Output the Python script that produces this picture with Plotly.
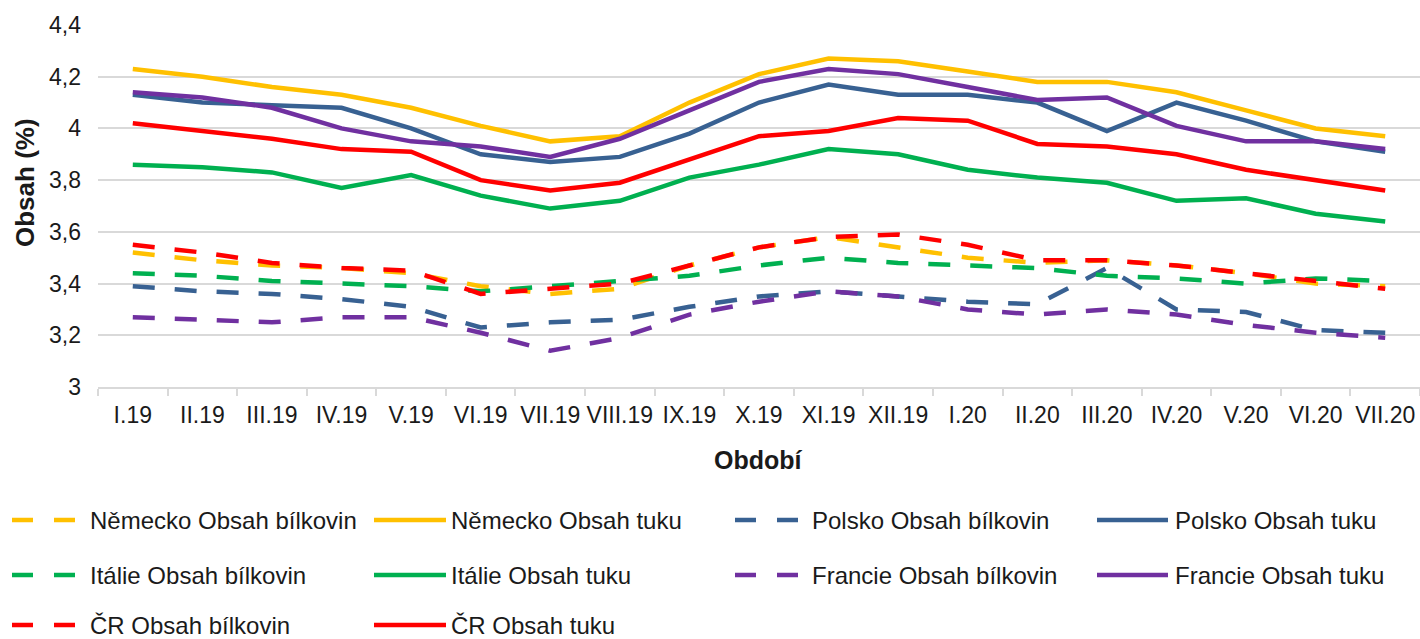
import plotly.graph_objects as go

categories = ["I.19", "II.19", "III.19", "IV.19", "V.19", "VI.19", "VII.19", "VIII.19",
              "IX.19", "X.19", "XI.19", "XII.19", "I.20", "II.20", "III.20", "IV.20",
              "V.20", "VI.20", "VII.20"]

nemecko_bilkovin = [3.52, 3.49, 3.47, 3.46, 3.44, 3.39, 3.36, 3.38, 3.47, 3.54, 3.58, 3.54, 3.50, 3.48, 3.49, 3.47, 3.44, 3.40, 3.39]
nemecko_tuk = [4.23, 4.20, 4.16, 4.13, 4.08, 4.01, 3.95, 3.97, 4.10, 4.21, 4.27, 4.26, 4.22, 4.18, 4.18, 4.14, 4.07, 4.00, 3.97]
polsko_bilkovin = [3.39, 3.37, 3.36, 3.34, 3.31, 3.23, 3.25, 3.26, 3.31, 3.35, 3.37, 3.35, 3.33, 3.32, 3.46, 3.30, 3.29, 3.22, 3.21]
polsko_tuk = [4.13, 4.10, 4.09, 4.08, 4.00, 3.90, 3.87, 3.89, 3.98, 4.10, 4.17, 4.13, 4.13, 4.10, 3.99, 4.10, 4.03, 3.95, 3.91]
italie_bilkovin = [3.44, 3.43, 3.41, 3.40, 3.39, 3.37, 3.39, 3.41, 3.43, 3.47, 3.50, 3.48, 3.47, 3.46, 3.43, 3.42, 3.40, 3.42, 3.41]
italie_tuk = [3.86, 3.85, 3.83, 3.77, 3.82, 3.74, 3.69, 3.72, 3.81, 3.86, 3.92, 3.90, 3.84, 3.81, 3.79, 3.72, 3.73, 3.67, 3.64]
francie_bilkovin = [3.27, 3.26, 3.25, 3.27, 3.27, 3.21, 3.14, 3.19, 3.28, 3.33, 3.37, 3.35, 3.30, 3.28, 3.30, 3.28, 3.24, 3.21, 3.19]
francie_tuk = [4.14, 4.12, 4.08, 4.00, 3.95, 3.93, 3.89, 3.96, 4.07, 4.18, 4.23, 4.21, 4.16, 4.11, 4.12, 4.01, 3.95, 3.95, 3.92]
cr_bilkovin = [3.55, 3.52, 3.48, 3.46, 3.45, 3.36, 3.38, 3.40, 3.47, 3.54, 3.58, 3.59, 3.55, 3.49, 3.49, 3.47, 3.44, 3.41, 3.38]
cr_tuk = [4.02, 3.99, 3.96, 3.92, 3.91, 3.80, 3.76, 3.79, 3.88, 3.97, 3.99, 4.04, 4.03, 3.94, 3.93, 3.90, 3.84, 3.80, 3.76]

y_tick_values = [3.0, 3.2, 3.4, 3.6, 3.8, 4.0, 4.2, 4.4]
y_tick_labels = ["3", "3,2", "3,4", "3,6", "3,8", "4", "4,2", "4,4"]

series = [
    ("Německo Obsah bílkovin", nemecko_bilkovin, "#FFC000", True),
    ("Německo Obsah tuku", nemecko_tuk, "#FFC000", False),
    ("Polsko Obsah bílkovin", polsko_bilkovin, "#386192", True),
    ("Polsko Obsah tuku", polsko_tuk, "#386192", False),
    ("Itálie Obsah bílkovin", italie_bilkovin, "#00B050", True),
    ("Itálie Obsah tuku", italie_tuk, "#00B050", False),
    ("Francie Obsah bílkovin", francie_bilkovin, "#7030A0", True),
    ("Francie Obsah tuku", francie_tuk, "#7030A0", False),
    ("ČR Obsah bílkovin", cr_bilkovin, "#FF0000", True),
    ("ČR Obsah tuku", cr_tuk, "#FF0000", False),
]

W, H = 1420, 639
L, R, T, B = 98, 0, 25, 252
PW, PH = W - L - R, H - T - B

def px_x(px):
    return (px - L) / PW

def px_y(py):
    return (H - B - py) / PH

FONT = "Liberation Sans, Arial, sans-serif"
TXT = "#1a1a1a"
GRID = "#d9d9d9"

fig = go.Figure()
for name, vals, color, dashed in series:
    fig.add_trace(go.Scatter(
        x=categories, y=vals, name=name, mode="lines",
        line=dict(color=color, width=4.5, dash="22px,20px" if dashed else "solid"),
        showlegend=False,
    ))

# manual legend (4 columns, 3 rows)
col_sym = [(12, 75), (374, 446), (735, 798), (1097, 1168)]
col_txt = [88, 449, 810, 1173]
row_y = [520, 575, 625]
shapes = []
annotations = []
for i, (name, vals, color, dashed) in enumerate(series):
    r, c = divmod(i, 4)
    x0, x1 = col_sym[c]
    yy = row_y[r]
    shapes.append(dict(type="line", xref="paper", yref="paper",
                       x0=px_x(x0), x1=px_x(x1), y0=px_y(yy), y1=px_y(yy),
                       line=dict(color=color, width=4.5,
                                 dash="21px,21px" if dashed else "solid")))
    annotations.append(dict(xref="paper", yref="paper", x=px_x(col_txt[c]), y=px_y(yy),
                            text=name, showarrow=False, xanchor="left", yanchor="middle",
                            font=dict(family=FONT, size=24, color=TXT)))

annotations.append(dict(xref="paper", yref="paper", x=px_x(758), y=px_y(460),
                        text="<b>Období</b>", showarrow=False, xanchor="center", yanchor="middle",
                        font=dict(family=FONT, size=25, color=TXT)))
annotations.append(dict(xref="paper", yref="paper", x=px_x(25), y=px_y(183),
                        text="<b>Obsah (%)</b>", showarrow=False, textangle=-90,
                        xanchor="center", yanchor="middle",
                        font=dict(family=FONT, size=26, color=TXT)))

fig.update_layout(
    width=W, height=H,
    margin=dict(l=L, r=R, t=T, b=B, autoexpand=False),
    plot_bgcolor="white", paper_bgcolor="white",
    font=dict(family=FONT, size=23, color=TXT),
    shapes=shapes, annotations=annotations,
    showlegend=False,
)
fig.update_xaxes(
    type="category", range=[-0.5, len(categories) - 0.5],
    showgrid=False, showline=True, linecolor=GRID, linewidth=2,
    ticks="outside", tickson="boundaries", ticklen=7, tickcolor=GRID, tickwidth=1.5,
    tickangle=0,
    tickfont=dict(family=FONT, size=23, color=TXT), ticklabelstandoff=6,
)
fig.update_yaxes(
    range=[3.0, 4.4], tickvals=y_tick_values, ticktext=y_tick_labels,
    showgrid=True, gridcolor=GRID, gridwidth=2, zeroline=False, showline=False,
    ticks="", tickfont=dict(family=FONT, size=23, color=TXT), ticklabelstandoff=16,
)

fig.write_html("out.html", config={"displayModeBar": False},
               post_script="document.body.style.margin='0px';")
